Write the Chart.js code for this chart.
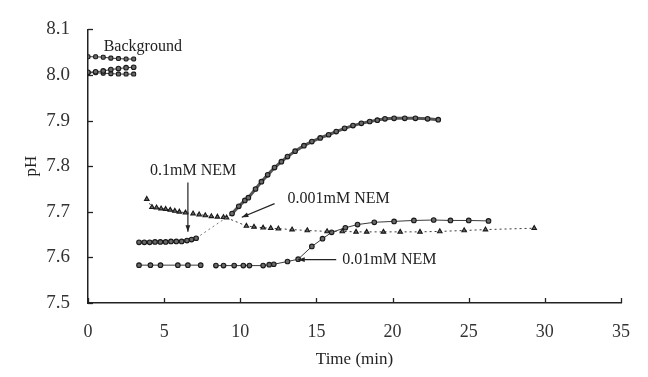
<!DOCTYPE html>
<html>
<head>
<meta charset="utf-8">
<script src="https://cdn.jsdelivr.net/npm/chart.js@4.4.1/dist/chart.umd.min.js"></script>
<style>
  html, body { margin: 0; padding: 0; background: #fff; }
  #wrap { width: 648px; height: 377px; position: relative; }
</style>
</head>
<body>
<div id="wrap"><canvas id="chart"></canvas></div>
<script>
// background runs (t = 0..3 min)
const bgTime = [0, 0.5, 1.0, 1.5, 2.0, 2.5, 3.0];
const bgUpper = [8.040, 8.040, 8.039, 8.037, 8.036, 8.035, 8.035];
const bgMiddle = [8.006, 8.007, 8.009, 8.012, 8.014, 8.016, 8.017];
const bgLower = [8.005, 8.005, 8.004, 8.003, 8.002, 8.002, 8.002];

// 0.1mM NEM
const nem01Time = [3.35, 3.7, 4.05, 4.4, 4.75, 5.1, 5.45, 5.8, 6.15, 6.5, 6.8, 7.1,
  9.46, 9.9, 10.3, 10.53, 11.0, 11.39, 11.8, 12.25, 12.7, 13.1, 13.6, 14.18, 14.7,
  15.25, 15.8, 16.3, 16.85, 17.4, 17.95, 18.5, 19.0, 19.5, 20.1, 20.8, 21.5, 22.3, 23.0];
const nem01pH = [7.633, 7.633, 7.633, 7.634, 7.634, 7.634, 7.635, 7.635, 7.635, 7.637, 7.639, 7.642,
  7.696, 7.712, 7.725, 7.731, 7.750, 7.766, 7.781, 7.797, 7.810, 7.821, 7.833, 7.845, 7.854,
  7.862, 7.869, 7.876, 7.883, 7.889, 7.894, 7.898, 7.901, 7.904, 7.905, 7.905, 7.905, 7.904, 7.902];
const nem01GapAfter = 11; // dotted link between the two marked runs

// 0.001mM NEM
const nem001Time = [3.86, 4.2, 4.5, 4.8, 5.1, 5.4, 5.7, 6.0, 6.4, 6.9, 7.3, 7.7, 8.1, 8.5, 8.9, 9.1,
  10.4, 10.9, 11.5, 12.0, 12.5, 13.4, 14.4, 15.7, 16.7, 17.6, 18.3, 19.4, 20.5, 21.8, 23.1, 24.7, 26.1, 29.3];
const nem001pH = [7.728, 7.710, 7.709, 7.707, 7.706, 7.704, 7.702, 7.700, 7.698, 7.696, 7.694, 7.692, 7.690, 7.689, 7.688, 7.687,
  7.669, 7.667, 7.665, 7.664, 7.663, 7.661, 7.659, 7.657, 7.657, 7.656, 7.656, 7.656, 7.656, 7.656, 7.657, 7.659, 7.661, 7.664];

// 0.01mM NEM (null = break in the trace)
const nem0001Time = [3.35, 4.1, 4.76, 5.9, 6.56, 7.4, 7.9,
  8.4, 8.9, 9.6, 10.2, 10.6, 11.5, 11.9, 12.2, 13.1, 13.8, 14.7, 15.4, 16.0, 16.9, 17.7, 18.8,
  20.1, 21.4, 22.7, 23.8, 25.0, 26.3];
const nem0001pH = [7.583, 7.583, 7.583, 7.583, 7.583, 7.583, null,
  7.582, 7.582, 7.582, 7.582, 7.582, 7.582, 7.584, 7.585, 7.591, 7.596, 7.624, 7.641, 7.655, 7.665, 7.672, 7.677,
  7.679, 7.681, 7.682, 7.681, 7.681, 7.680];

const xTicks = [0, 5, 10, 15, 20, 25, 30, 35];
const yTicks = [7.5, 7.6, 7.7, 7.8, 7.9, 8.0, 8.1];

// text labels with pointer lines, in data units
const notes = [
  { text: 'Background', x: 1.03, y: 8.062, align: 'left' },
  { text: '0.1mM NEM', x: 6.9, y: 7.790, align: 'center', from: [6.56, 7.764], to: [6.56, 7.656] },
  { text: '0.001mM NEM', x: 13.1, y: 7.728, align: 'left', from: [12.25, 7.718], to: [10.1, 7.688] },
  { text: '0.01mM NEM', x: 16.7, y: 7.595, align: 'left', from: [16.3, 7.595], to: [13.8, 7.595] }
];

const FONT = '"Liberation Serif", "Times New Roman", serif';
const pts = (xs, ys) => xs.map((x, i) => ({ x: x, y: ys[i] }));

function markerSet(label, xs, ys, style) {
  return Object.assign({
    label: label,
    data: pts(xs, ys),
    showLine: true,
    spanGaps: false,
    borderColor: '#3a3a3a',
    borderWidth: 1,
    pointRadius: 2.3,
    pointBorderWidth: 1.1,
    pointBorderColor: '#1a1a1a',
    pointBackgroundColor: '#6a6a6a',
    pointStyle: 'circle'
  }, style || {});
}

const innerTicks = {
  id: 'innerTicks',
  afterDraw(chart) {
    const { ctx, scales: { x, y } } = chart;
    ctx.save();
    ctx.strokeStyle = '#222';
    ctx.lineWidth = 1.3;
    xTicks.forEach(v => {
      const px = Math.round(x.getPixelForValue(v)) + 0.5;
      ctx.beginPath();
      ctx.moveTo(px, y.bottom);
      ctx.lineTo(px, y.bottom - 5);
      ctx.stroke();
    });
    yTicks.forEach(v => {
      const py = Math.round(y.getPixelForValue(v)) + 0.5;
      ctx.beginPath();
      ctx.moveTo(x.left, py);
      ctx.lineTo(x.left + 5, py);
      ctx.stroke();
    });
    ctx.restore();
  }
};

const notesPlugin = {
  id: 'notes',
  afterDatasetsDraw(chart) {
    const { ctx, scales: { x, y } } = chart;
    ctx.save();
    ctx.fillStyle = '#222';
    ctx.strokeStyle = '#222';
    ctx.font = '16px ' + FONT;
    ctx.textBaseline = 'middle';
    notes.forEach(n => {
      ctx.textAlign = n.align;
      ctx.fillText(n.text, x.getPixelForValue(n.x), y.getPixelForValue(n.y));
      if (n.from) {
        const x1 = x.getPixelForValue(n.from[0]), y1 = y.getPixelForValue(n.from[1]);
        const x2 = x.getPixelForValue(n.to[0]), y2 = y.getPixelForValue(n.to[1]);
        ctx.lineWidth = 1.2;
        ctx.beginPath();
        ctx.moveTo(x1, y1);
        ctx.lineTo(x2, y2);
        ctx.stroke();
        const a = Math.atan2(y2 - y1, x2 - x1);
        ctx.beginPath();
        ctx.moveTo(x2, y2);
        ctx.lineTo(x2 - 7 * Math.cos(a - 0.35), y2 - 7 * Math.sin(a - 0.35));
        ctx.lineTo(x2 - 7 * Math.cos(a + 0.35), y2 - 7 * Math.sin(a + 0.35));
        ctx.closePath();
        ctx.fill();
      }
    });
    ctx.restore();
  }
};

new Chart(document.getElementById('chart'), {
  type: 'scatter',
  data: {
    datasets: [
      markerSet('Background 1', bgTime, bgUpper, { pointStyle: 'rectRounded' }),
      markerSet('Background 2', bgTime, bgMiddle),
      markerSet('Background 3', bgTime, bgLower, { pointStyle: 'rectRounded' }),
      markerSet('0.1mM NEM', nem01Time, nem01pH, {
        borderWidth: 3,
        borderColor: '#555',
        segment: {
          borderDash: c => c.p0DataIndex === nem01GapAfter ? [2, 3] : undefined,
          borderWidth: c => c.p0DataIndex === nem01GapAfter ? 1 : undefined,
          borderColor: c => c.p0DataIndex === nem01GapAfter ? '#777' : undefined
        }
      }),
      markerSet('0.001mM NEM', nem001Time, nem001pH, {
        pointStyle: 'triangle',
        pointRadius: 2.6,
        borderDash: [2, 3]
      }),
      markerSet('0.01mM NEM', nem0001Time, nem0001pH)
    ]
  },
  options: {
    responsive: true,
    maintainAspectRatio: false,
    animation: false,
    layout: { padding: { top: 14, right: 16, left: 0, bottom: 0 } },
    plugins: {
      legend: { display: false },
      tooltip: { enabled: false }
    },
    scales: {
      x: {
        type: 'linear',
        min: 0,
        max: 35,
        afterFit: s => { s.height = 74; },
        afterBuildTicks: s => { s.ticks = xTicks.map(v => ({ value: v })); },
        grid: { display: false, drawTicks: false, tickLength: 0 },
        border: { display: true, color: '#222', width: 1.5 },
        ticks: { padding: 18, color: '#333', font: { family: FONT, size: 18 }, maxRotation: 0 },
        title: {
          display: true,
          text: 'Time (min)',
          color: '#222',
          font: { family: FONT, size: 17 },
          padding: { top: 0, bottom: 7 }
        }
      },
      y: {
        type: 'linear',
        min: 7.5,
        max: 8.1,
        afterFit: s => { s.width = 88; },
        afterBuildTicks: s => { s.ticks = yTicks.map(v => ({ value: v })); },
        grid: { display: false, drawTicks: false, tickLength: 0 },
        border: { display: true, color: '#222', width: 1.5 },
        ticks: {
          padding: 18,
          color: '#333',
          font: { family: FONT, size: 19 },
          callback: v => Number(v).toFixed(1)
        },
        title: {
          display: true,
          text: 'pH',
          color: '#222',
          font: { family: FONT, size: 17 },
          padding: { top: 21, bottom: 0 }
        }
      }
    }
  },
  plugins: [innerTicks, notesPlugin]
});
</script>
</body>
</html>
